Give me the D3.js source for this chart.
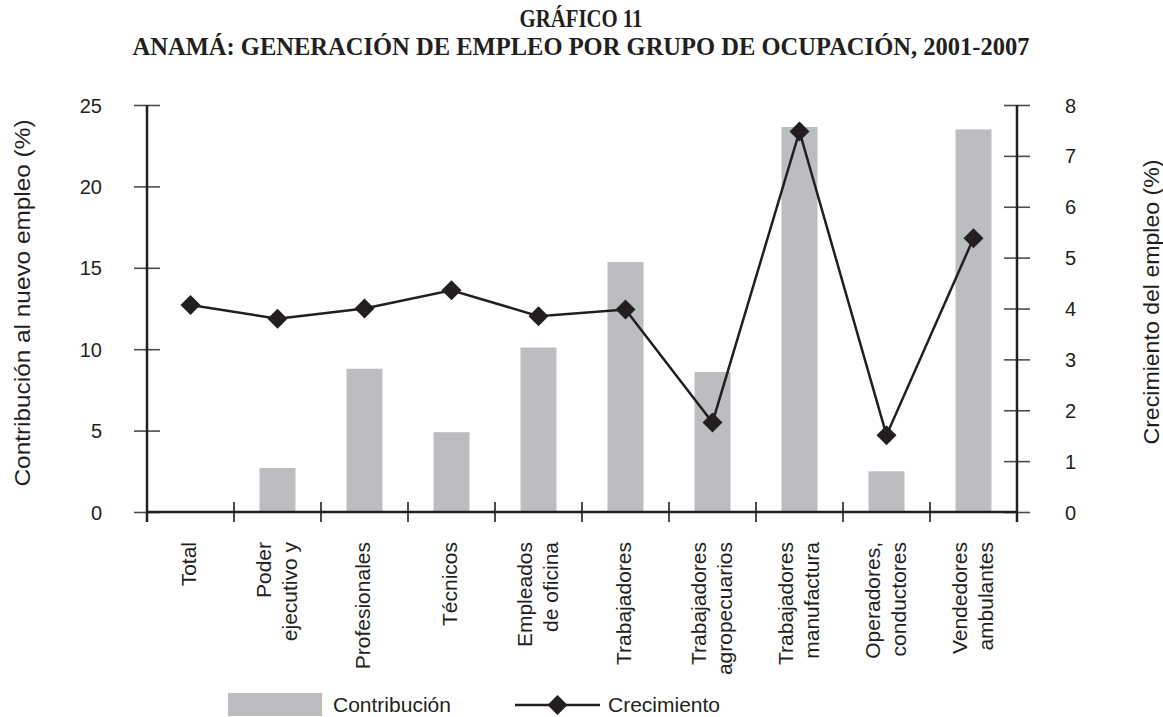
<!DOCTYPE html>
<html>
<head>
<meta charset="utf-8">
<script src="https://cdn.jsdelivr.net/npm/d3@7"></script>
<style>
body { margin: 0; background: #fff; }
svg text { font-family: "Liberation Sans", Arial, sans-serif; fill: #231f20; }
</style>
</head>
<body>
<svg id="chart" width="1163" height="717"></svg>
<script>
var categories = [
	["Total"],
	["Poder", "ejecutivo y"],
	["Profesionales"],
	["Técnicos"],
	["Empleados", "de oficina"],
	["Trabajadores"],
	["Trabajadores", "agropecuarios"],
	["Trabajadores", "manufactura"],
	["Operadores,", "conductores"],
	["Vendedores", "ambulantes"]
];
var contribucion = [0, 2.7, 8.8, 4.9, 10.1, 15.35, 8.6, 23.65, 2.5, 23.5];
var crecimiento = [4.07, 3.8, 4.0, 4.36, 3.85, 3.98, 1.76, 7.48, 1.51, 5.38];
var leftTicks = [0, 5, 10, 15, 20, 25];
var rightTicks = [0, 1, 2, 3, 4, 5, 6, 7, 8];
var titleLines = ["GRÁFICO 11", "ANAMÁ: GENERACIÓN DE EMPLEO POR GRUPO DE OCUPACIÓN, 2001-2007"];
var axisTitles = ["Contribución al nuevo empleo (%)", "Crecimiento del empleo (%)"];
var legendLabels = ["Contribución", "Crecimiento"];

var dark = "#231f20";
var barColor = "#bcbdc0";

var svg = d3.select("#chart");
var mLeft = 147, mRight = 1017, mTop = 105, mBottom = 512;

var x = d3.scaleBand().domain(d3.range(categories.length)).range([mLeft, mRight]);
var yL = d3.scaleLinear().domain([0, 25]).range([mBottom, mTop]);
var yR = d3.scaleLinear().domain([0, 8]).range([mBottom, mTop]);

function cx(i) { return x(i) + x.bandwidth() / 2; }

// titulo
svg.append("text")
	.attr("x", 581).attr("y", 27)
	.attr("text-anchor", "middle")
	.attr("textLength", 123).attr("lengthAdjust", "spacingAndGlyphs")
	.style("font-family", "'Liberation Serif', 'Times New Roman', serif")
	.style("font-weight", "bold").style("font-size", "26px")
	.text(titleLines[0]);
svg.append("text")
	.attr("x", 581).attr("y", 55)
	.attr("text-anchor", "middle")
	.attr("textLength", 897).attr("lengthAdjust", "spacingAndGlyphs")
	.style("font-family", "'Liberation Serif', 'Times New Roman', serif")
	.style("font-weight", "bold").style("font-size", "26px")
	.text(titleLines[1]);

// barras
svg.append("g").selectAll("rect")
	.data(contribucion)
	.enter()
	.append("rect")
	.attr("x", function(d, i) { return cx(i) - 18; })
	.attr("width", 36)
	.attr("y", function(d) { return yL(d); })
	.attr("height", function(d) { return yL(0) - yL(d); })
	.style("fill", barColor);

// ejes
var axisL = d3.axisLeft(yL).tickValues(leftTicks).tickSize(0);
var gL = svg.append("g").attr("transform", "translate(" + mLeft + ",0)").call(axisL);
gL.select(".domain").remove();
gL.selectAll(".tick text").remove();
gL.selectAll(".tick line").remove();
gL.selectAll(".tick").append("line")
	.attr("x1", -13).attr("x2", 13)
	.style("stroke", "#4d4d4f").style("stroke-width", 1.6);
gL.selectAll(".tick").append("text")
	.attr("x", -45).attr("dy", "0.35em")
	.attr("text-anchor", "end")
	.style("font-size", "20px")
	.text(function(d) { return d; });

var axisR = d3.axisRight(yR).tickValues(rightTicks).tickSize(0);
var gR = svg.append("g").attr("transform", "translate(" + mRight + ",0)").call(axisR);
gR.select(".domain").remove();
gR.selectAll(".tick text").remove();
gR.selectAll(".tick line").remove();
gR.selectAll(".tick").append("line")
	.attr("x1", -13).attr("x2", 13)
	.style("stroke", "#4d4d4f").style("stroke-width", 1.6);
gR.selectAll(".tick").append("text")
	.attr("x", 48).attr("dy", "0.35em")
	.attr("text-anchor", "start")
	.style("font-size", "20px")
	.text(function(d) { return d; });

// ticks categorias
svg.append("g").selectAll("line")
	.data(d3.range(1, categories.length))
	.enter()
	.append("line")
	.attr("x1", function(d) { return x(d); })
	.attr("x2", function(d) { return x(d); })
	.attr("y1", mBottom - 10).attr("y2", mBottom + 10)
	.style("stroke", dark).style("stroke-width", 1.6);

svg.append("line").attr("x1", mLeft).attr("x2", mLeft).attr("y1", mTop).attr("y2", mBottom + 10)
	.style("stroke", dark).style("stroke-width", 2.5);
svg.append("line").attr("x1", mRight).attr("x2", mRight).attr("y1", mTop).attr("y2", mBottom + 10)
	.style("stroke", dark).style("stroke-width", 2.5);
svg.append("line").attr("x1", mLeft).attr("x2", mRight).attr("y1", mBottom).attr("y2", mBottom)
	.style("stroke", dark).style("stroke-width", 2.5);

// etiquetas categorias
var labels = svg.append("g").selectAll("text")
	.data(categories)
	.enter()
	.append("text")
	.attr("transform", function(d, i) {
		var base = d.length == 1 ? cx(i) + 5 : cx(i) + 6 - 13;
		return "translate(" + base + ",542) rotate(-90)";
	})
	.attr("text-anchor", "end")
	.style("font-size", "21px");
labels.selectAll("tspan")
	.data(function(d) { return d; })
	.enter()
	.append("tspan")
	.attr("x", 0)
	.attr("y", function(d, i) { return i * 26; })
	.text(function(d) { return d; });

// linea crecimiento
var line = d3.line()
	.x(function(d, i) { return cx(i); })
	.y(function(d) { return yR(d); });
svg.append("path")
	.datum(crecimiento)
	.attr("d", line)
	.style("fill", "none").style("stroke", dark).style("stroke-width", 2.5);

var diamond = d3.symbol().type(d3.symbolSquare).size(200);
svg.append("g").selectAll("path")
	.data(crecimiento)
	.enter()
	.append("path")
	.attr("d", diamond)
	.attr("transform", function(d, i) { return "translate(" + cx(i) + "," + yR(d) + ") rotate(45)"; })
	.style("fill", dark);

// titulos de ejes
svg.append("text")
	.attr("transform", "translate(30,303) rotate(-90)")
	.attr("text-anchor", "middle")
	.attr("textLength", 367).attr("lengthAdjust", "spacingAndGlyphs")
	.style("font-size", "22px")
	.text(axisTitles[0]);
svg.append("text")
	.attr("transform", "translate(1159,302) rotate(-90)")
	.attr("text-anchor", "middle")
	.attr("textLength", 285).attr("lengthAdjust", "spacingAndGlyphs")
	.style("font-size", "22px")
	.text(axisTitles[1]);

// leyenda
var legend = svg.append("g");
legend.append("rect").attr("x", 228).attr("y", 693).attr("width", 94).attr("height", 23).style("fill", barColor);
legend.append("text").attr("x", 333).attr("y", 712).style("font-size", "21px").text(legendLabels[0]);
legend.append("line").attr("x1", 515).attr("x2", 600).attr("y1", 705).attr("y2", 705)
	.style("stroke", dark).style("stroke-width", 2.5);
legend.append("path").attr("d", diamond).attr("transform", "translate(557.5,705) rotate(45)").style("fill", dark);
legend.append("text").attr("x", 608).attr("y", 712).style("font-size", "21px").text(legendLabels[1]);
</script>
</body>
</html>
